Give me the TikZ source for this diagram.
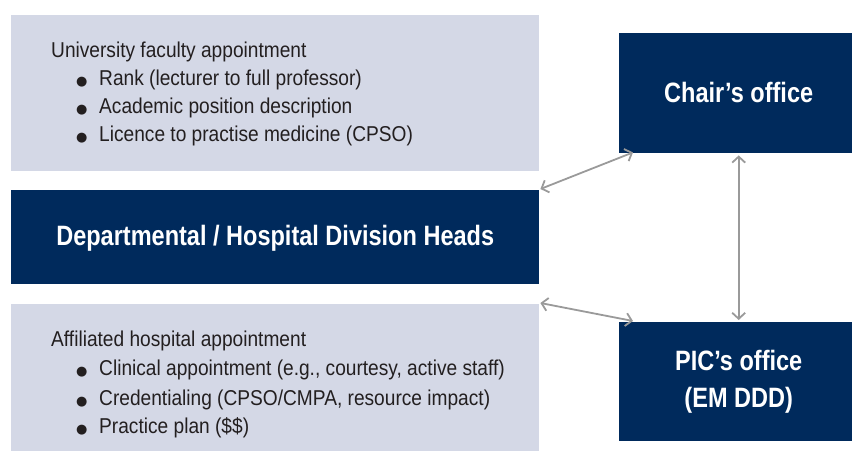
\documentclass[tikz,border=0pt]{standalone}
\usepackage{fontspec}
\setmainfont{Liberation Sans}[FakeStretch=0.89]
\newfontfamily\titlefont{Liberation Sans}[FakeStretch=0.84]
\newfontfamily\bulletfont{DejaVu Sans}
\usetikzlibrary{arrows.meta,calc}
\definecolor{navy}{RGB}{0,42,92}
\definecolor{paleblue}{RGB}{212,216,230}
\definecolor{arrowgrey}{RGB}{154,154,154}
\definecolor{inkgrey}{RGB}{35,31,32}
\newcommand{\bul}{{\bulletfont\fontsize{13}{13}\selectfont ●}}
\tikzset{
  greybox/.style={fill=paleblue, draw=none, anchor=north west, inner sep=0pt},
  navybox/.style={fill=navy, draw=none, anchor=north west, inner sep=0pt},
  bodytext/.style={anchor=base west, inner sep=0pt, font=\fontsize{21.5}{24}\selectfont, text=inkgrey},
  titletext/.style={inner sep=0pt, font=\titlefont\fontsize{28}{37}\selectfont\bfseries, text=white, align=center},
  link/.style={draw=arrowgrey, line width=1.8pt, {Straight Barb[length=6pt,width=13pt]}-{Straight Barb[length=6pt,width=13pt]}}
}
\begin{document}
\begin{tikzpicture}[x=1pt,y=-1pt]
\useasboundingbox (0,0) rectangle (852,451);
% boxes
\node[greybox, minimum width=528pt, minimum height=156pt] (univ) at (11,15) {};
\node[navybox, minimum width=528pt, minimum height=94pt] (heads) at (11,190) {};
\node[greybox, minimum width=528pt, minimum height=147pt] (hosp) at (11,304) {};
\node[navybox, minimum width=233pt, minimum height=120pt] (chair) at (619,33) {};
\node[navybox, minimum width=233pt, minimum height=119pt] (pic) at (619,322) {};
% titles
\node[titletext] (headsT) at ($(heads.center)+(0,1)$) {Departmental / Hospital Division Heads};
\node[titletext] (chairT) at ($(chair.center)+(3,-1)$) {Chair’s office};
\node[titletext] (picT) at ($(pic.center)+(3,0)$) {PIC’s office\\(EM DDD)};
% university text
\node[bodytext] (u0) at (51,57.5) {University faculty appointment};
\node[bodytext] (ub1) at (76,85) {\bul};
\node[bodytext] (u1) at (99,85) {Rank (lecturer to full professor)};
\node[bodytext] (ub2) at (76,113.3) {\bul};
\node[bodytext] (u2) at (99,113.3) {Academic position description};
\node[bodytext] (ub3) at (76,141) {\bul};
\node[bodytext] (u3) at (99,141) {Licence to practise medicine (CPSO)};
% hospital text
\node[bodytext] (h0) at (51,346.7) {Affiliated hospital appointment};
\node[bodytext] (hb1) at (76,375.5) {\bul};
\node[bodytext] (h1) at (99,375.5) {Clinical appointment (e.g., courtesy, active staff)};
\node[bodytext] (hb2) at (76,405) {\bul};
\node[bodytext] (h2) at (99,405) {Credentialing (CPSO/CMPA, resource impact)};
\node[bodytext] (hb3) at (76,433.5) {\bul};
\node[bodytext] (h3) at (99,433.5) {Practice plan (\$\$)};
% connectors
\draw[link] ($(heads.north east)+(1,-1)$) -- ($(chair.south west)+(14,-1)$);
\draw[link] ($(hosp.north east)+(1,-1)$) -- ($(pic.north west)+(14,-1)$);
\draw[link] ($(chair.south)+(3,2)$) -- ($(pic.north)+(3,-2)$);
\end{tikzpicture}
\end{document}
